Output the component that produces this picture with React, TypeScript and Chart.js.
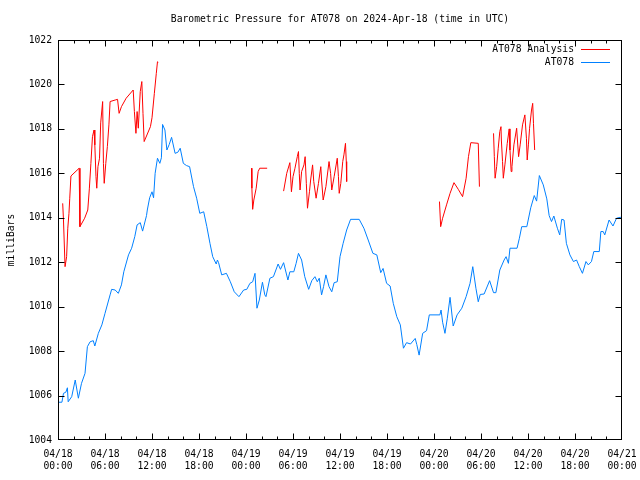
import React, { useEffect, useRef } from "react";
import { Chart, registerables } from "chart.js";

Chart.register(...registerables);

const titleText = "Barometric Pressure for AT078 on 2024-Apr-18 (time in UTC)";
const yAxisTitle = "milliBars";
const seriesNames = ["AT078 Analysis", "AT078"];

const xTickLabels = [
  ["04/18", "00:00"], ["04/18", "06:00"], ["04/18", "12:00"], ["04/18", "18:00"],
  ["04/19", "00:00"], ["04/19", "06:00"], ["04/19", "12:00"], ["04/19", "18:00"],
  ["04/20", "00:00"], ["04/20", "06:00"], ["04/20", "12:00"], ["04/20", "18:00"],
  ["04/21", "00:00"],
];

// hours since 2024-04-18 00:00 UTC
const stationHours = [
  0.0, 0.5, 0.7, 1.0, 1.2, 1.3, 1.75, 2.2, 2.6, 3.0, 3.45, 3.75, 4.1, 4.5, 4.7, 5.15, 5.6, 6.0,
  6.65, 6.85, 7.3, 7.7, 8.1, 8.4, 9.0, 9.4, 9.8, 10.1, 10.5, 10.8, 11.3, 11.4, 11.7, 12.0, 12.2,
  12.4, 12.7, 13.0, 13.2, 13.35, 13.65, 13.9, 14.2, 14.5, 14.95, 15.3, 15.6, 16.0, 16.4, 16.8,
  17.3, 17.7, 18.1, 18.6, 19.0, 19.4, 19.75, 20.2, 20.35, 20.5, 20.9, 21.5, 22.0, 22.5, 23.1,
  23.7, 24.1, 24.5, 24.85, 25.15, 25.4, 25.7, 26.1, 26.4, 26.55, 27.05, 27.5, 28.1, 28.4, 28.8,
  29.35, 29.6, 30.1, 30.4, 30.7, 31.1, 31.5, 32.0, 32.4, 32.8, 33.1, 33.35, 33.65, 33.9, 34.2,
  34.6, 34.95, 35.25, 35.65, 36.0, 36.4, 36.85, 37.35, 38.45, 39.05, 39.6, 40.2, 40.7, 41.2,
  41.5, 41.95, 42.4, 42.8, 43.25, 43.7, 44.1, 44.5, 45.0, 45.6, 45.8, 46.1, 46.55, 47.05, 47.4,
  48.75, 48.9, 49.1, 49.4, 49.7, 50.05, 50.45, 50.95, 51.55, 52.1, 52.6, 52.95, 53.35, 53.65,
  53.9, 54.4, 55.1, 55.6, 55.9, 56.4, 56.95, 57.2, 57.5, 57.7, 58.6, 58.9, 59.2, 59.85, 60.35,
  60.8, 61.1, 61.45, 61.95, 62.4, 62.7, 63.0, 63.3, 63.75, 64.05, 64.3, 64.6, 64.9, 65.35, 65.8,
  66.2, 66.55, 66.95, 67.4, 67.7, 68.1, 68.4, 69.1, 69.3, 69.6, 69.8, 70.35, 70.85, 71.3, 71.75,
  72.0,
];
const stationPressure = [
  1005.7, 1005.7, 1006.1, 1006.15, 1006.35, 1005.72, 1005.95, 1006.7, 1005.88, 1006.55, 1007.0,
  1008.2, 1008.42, 1008.47, 1008.23, 1008.8, 1009.18, 1009.7, 1010.53, 1010.78, 1010.75, 1010.6,
  1010.98, 1011.57, 1012.33, 1012.63, 1013.15, 1013.68, 1013.78, 1013.4, 1014.1, 1014.35, 1014.9,
  1015.17, 1014.9, 1016.0, 1016.68, 1016.45, 1016.7, 1018.2, 1017.95, 1017.05, 1017.3, 1017.62,
  1016.9, 1016.95, 1017.13, 1016.45, 1016.35, 1016.3, 1015.4, 1014.88, 1014.2, 1014.27, 1013.6,
  1012.85, 1012.25, 1011.92, 1012.1, 1011.98, 1011.43, 1011.5, 1011.12, 1010.67, 1010.45, 1010.75,
  1010.78, 1011.05, 1011.12, 1011.5, 1009.93, 1010.3, 1011.1, 1010.53, 1010.45, 1011.28, 1011.35,
  1011.92, 1011.68, 1011.98, 1011.2, 1011.57, 1011.57, 1011.95, 1012.4, 1012.1, 1011.35, 1010.78,
  1011.17, 1011.35, 1011.12, 1011.28, 1010.53, 1010.9, 1011.43, 1010.9, 1010.67, 1011.08, 1011.12,
  1012.25, 1012.85, 1013.45, 1013.93, 1013.93, 1013.53, 1013.0, 1012.4, 1012.33, 1011.53, 1011.72,
  1011.05, 1010.93, 1010.15, 1009.55, 1009.18, 1008.13, 1008.38, 1008.32, 1008.57, 1008.3, 1007.82,
  1008.8, 1008.92, 1009.63, 1009.63, 1009.85, 1009.3, 1008.8, 1009.48, 1010.42, 1009.13, 1009.63,
  1009.93, 1010.45, 1011.05, 1011.8, 1010.83, 1010.22, 1010.55, 1010.57, 1011.17, 1010.63,
  1010.63, 1011.65, 1012.1, 1012.25, 1011.95, 1012.63, 1012.63, 1013.08, 1013.6, 1013.6, 1014.45,
  1015.0, 1014.75, 1015.9, 1015.48, 1014.85, 1014.1, 1013.83, 1014.08, 1013.53, 1013.23, 1013.93,
  1013.9, 1012.85, 1012.33, 1012.03, 1012.1, 1011.8, 1011.5, 1012.03, 1011.88, 1012.03, 1012.48,
  1012.48, 1013.38, 1013.38, 1013.23, 1013.9, 1013.63, 1013.98, 1014.02, 1014.02,
];

// analysis series; null marks a gap between runs
const analysisHours = [
  0.6, 0.7, 0.9, 1.1, 1.25, 1.4, 1.5, 1.65, 2.7, 2.8, 3.4, 3.8, 4.0, 4.2, 4.4, 4.6, 4.7, 4.85,
  4.95, 5.1, 5.3, 5.45, 5.6, 5.7, 5.8, 5.9, 6.1, 6.3, 6.5, 6.65, 7.3, 7.6, 7.8, 8.1, 8.7, 9.6,
  9.75, 9.95, 10.1, 10.25, 10.5, 10.7, 10.85, 11.0, 11.8, 12.0, 12.3, 12.55, 12.7, 12.8,
  18.0,
  24.7, 24.75, 24.85, 25.0, 25.3, 25.55, 25.75, 26.7,
  27.5,
  28.8, 29.2, 29.6, 29.8, 30.0, 30.25, 30.55, 30.7, 30.8, 30.9, 31.1, 31.4, 31.55, 31.7, 31.85,
  32.1, 32.25, 32.5, 32.65, 32.95, 33.25, 33.55, 33.65, 33.85, 34.2, 34.6, 34.8, 34.95, 35.25,
  35.65, 35.8, 35.9, 36.1, 36.35, 36.5, 36.7, 36.8, 36.85,
  42.0,
  48.7, 48.85, 49.1, 49.6, 50.05, 50.55, 51.1, 51.65, 52.1, 52.4, 52.7, 53.65, 53.8,
  54.5,
  55.6, 55.7, 55.8, 56.0, 56.2, 56.4, 56.55, 56.6, 56.75, 56.85, 57.05, 57.35, 57.6, 57.7, 57.85,
  57.95, 58.2, 58.55, 58.65, 58.8, 59.0, 59.3, 59.6, 59.8, 59.9, 60.05, 60.2, 60.45, 60.6, 60.7,
  60.85,
];
const analysisPressure = [
  1014.65, 1013.9, 1011.8, 1012.25, 1013.53, 1014.2, 1014.88, 1015.88, 1016.23, 1013.6, 1013.98,
  1014.35, 1015.3, 1016.45, 1017.65, 1017.95, 1017.28, 1015.85, 1015.33, 1016.3, 1016.68, 1018.27,
  1018.85, 1019.23, 1016.45, 1015.55, 1016.45, 1017.2, 1018.18, 1019.23, 1019.3, 1019.33, 1018.7,
  1019.0, 1019.38, 1019.75, 1018.78, 1017.8, 1018.78, 1018.03, 1019.68, 1020.13, 1018.7, 1017.43,
  1018.1, 1018.5, 1019.6, 1020.5, 1021.02, 1021.0,
  null,
  1016.23, 1015.33, 1014.38, 1014.8, 1015.33, 1016.08, 1016.23, 1016.23,
  null,
  1015.2, 1016.0, 1016.48, 1015.17, 1015.85, 1016.23, 1016.75, 1016.98, 1016.0, 1015.25, 1016.08,
  1016.38, 1016.75, 1015.55, 1014.43, 1015.17, 1015.7, 1016.38, 1015.63, 1014.88, 1015.55, 1016.3,
  1015.7, 1014.8, 1015.4, 1016.53, 1016.0, 1015.25, 1015.85, 1016.68, 1015.85, 1015.1, 1015.55,
  1016.53, 1016.83, 1017.35, 1016.53, 1015.63,
  null,
  1014.73, 1013.6, 1013.98, 1014.58, 1015.1, 1015.58, 1015.28, 1014.95, 1015.78, 1016.75, 1017.38,
  1017.35, 1015.4,
  null,
  1017.8, 1016.75, 1015.78, 1016.3, 1017.13, 1017.88, 1018.1, 1017.5, 1016.53, 1015.78, 1016.38,
  1017.35, 1018.0, 1017.05, 1016.08, 1016.3, 1017.28, 1018.03, 1017.5, 1016.75, 1017.28, 1018.18,
  1018.63, 1017.58, 1016.6, 1017.28, 1018.03, 1018.85, 1019.15, 1018.25, 1017.05,
];

const RED = "#ff0000";
const BLUE = "#0080ff";
const FONT = "DejaVu Sans Mono";
const FS = 9.7;

const gnuFrame = {
  id: "gnuFrame",
  afterDraw(chart: any) {
    const { ctx, chartArea: a, scales } = chart;
    const L = Math.round(a.left) + 0.5;
    const R = Math.round(a.right) - 0.5;
    const T = Math.round(a.top) + 0.5;
    const B = Math.round(a.bottom) - 0.5;
    const clamp = (v: number, lo: number, hi: number) => Math.min(hi, Math.max(lo, v));
    ctx.save();
    ctx.strokeStyle = "#000";
    ctx.lineWidth = 1;
    ctx.beginPath();
    // x ticks (major every 6h, minor every 2h) on bottom and top
    for (let h = 0; h <= 72; h += 2) {
      const px = clamp(Math.round(scales.x.getPixelForValue(h)) + 0.5, L, R);
      const len = h % 6 === 0 ? 6 : 3;
      ctx.moveTo(px, B);
      ctx.lineTo(px, B - len);
      ctx.moveTo(px, T);
      ctx.lineTo(px, T + len);
    }
    for (let v = 1004; v <= 1022; v += 2) {
      const py = clamp(Math.round(scales.y.getPixelForValue(v)) + 0.5, T, B);
      ctx.moveTo(L, py);
      ctx.lineTo(L + 6, py);
      ctx.moveTo(R, py);
      ctx.lineTo(R - 6, py);
    }
    ctx.stroke();
    ctx.strokeRect(L, T, R - L, B - T);

    ctx.fillStyle = "#000";
    ctx.font = `${FS}px "${FONT}"`;
    ctx.textBaseline = "middle";
    ctx.textAlign = "center";
    ctx.fillText(titleText, (a.left + a.right) / 2, 19);

    ctx.save();
    ctx.translate(11, (a.top + a.bottom) / 2);
    ctx.rotate(-Math.PI / 2);
    ctx.fillText(yAxisTitle, 0, 0);
    ctx.restore();

    // legend
    const colors = [RED, BLUE];
    const rows = [49, 62];
    ctx.textAlign = "right";
    for (let i = 0; i < 2; i++) {
      ctx.fillStyle = "#000";
      ctx.fillText(seriesNames[i], 574, rows[i]);
      ctx.strokeStyle = colors[i];
      ctx.beginPath();
      ctx.moveTo(581, rows[i] + 0.5);
      ctx.lineTo(610, rows[i] + 0.5);
      ctx.stroke();
    }
    ctx.restore();
  },
};

export default function App() {
  const ref = useRef<HTMLCanvasElement | null>(null);

  useEffect(() => {
    if (!ref.current) return;
    const chart = new Chart(ref.current, {
      type: "line",
      data: {
        datasets: [
          {
            label: seriesNames[0],
            data: analysisHours.map((h, i) => ({ x: h, y: analysisPressure[i] })),
            borderColor: RED,
            backgroundColor: RED,
            borderWidth: 1,
            pointRadius: 0,
            tension: 0,
            spanGaps: false,
          },
          {
            label: seriesNames[1],
            data: stationHours.map((h, i) => ({ x: h, y: stationPressure[i] })),
            borderColor: BLUE,
            backgroundColor: BLUE,
            borderWidth: 1,
            pointRadius: 0,
            tension: 0,
          },
        ] as any,
      },
      options: {
        animation: false,
        responsive: false,
        devicePixelRatio: 1,
        layout: { padding: { top: 40, right: 18, bottom: 0, left: 0 } },
        plugins: {
          legend: { display: false },
          title: { display: false },
          tooltip: { enabled: false },
        },
        scales: {
          x: {
            type: "linear",
            min: 0,
            max: 72,
            grid: { display: false, drawTicks: false },
            border: { display: false },
            ticks: {
              stepSize: 6,
              autoSkip: false,
              maxRotation: 0,
              padding: 9,
              color: "#000",
              font: { family: FONT, size: FS, lineHeight: 1.2 },
              callback: (v: any) => xTickLabels[Math.round(Number(v) / 6)] as any,
            },
            afterFit: (s: any) => {
              s.height = 40;
              s.paddingLeft = 0;
              s.paddingRight = 0;
            },
          },
          y: {
            min: 1004,
            max: 1022,
            grid: { display: false, drawTicks: false },
            border: { display: false },
            ticks: {
              stepSize: 2,
              padding: 6,
              color: "#000",
              font: { family: FONT, size: FS },
              callback: (v: any) => String(v),
            },
            afterFit: (s: any) => {
              s.width = 58;
              s.paddingTop = 0;
              s.paddingBottom = 0;
            },
          },
        },
      },
      plugins: [gnuFrame],
    });
    return () => chart.destroy();
  }, []);

  return (
    <div style={{ position: "absolute", left: 0, top: 0, width: 640, height: 480, background: "#fff" }}>
      <canvas ref={ref} width={640} height={480} style={{ width: 640, height: 480 }} />
    </div>
  );
}
